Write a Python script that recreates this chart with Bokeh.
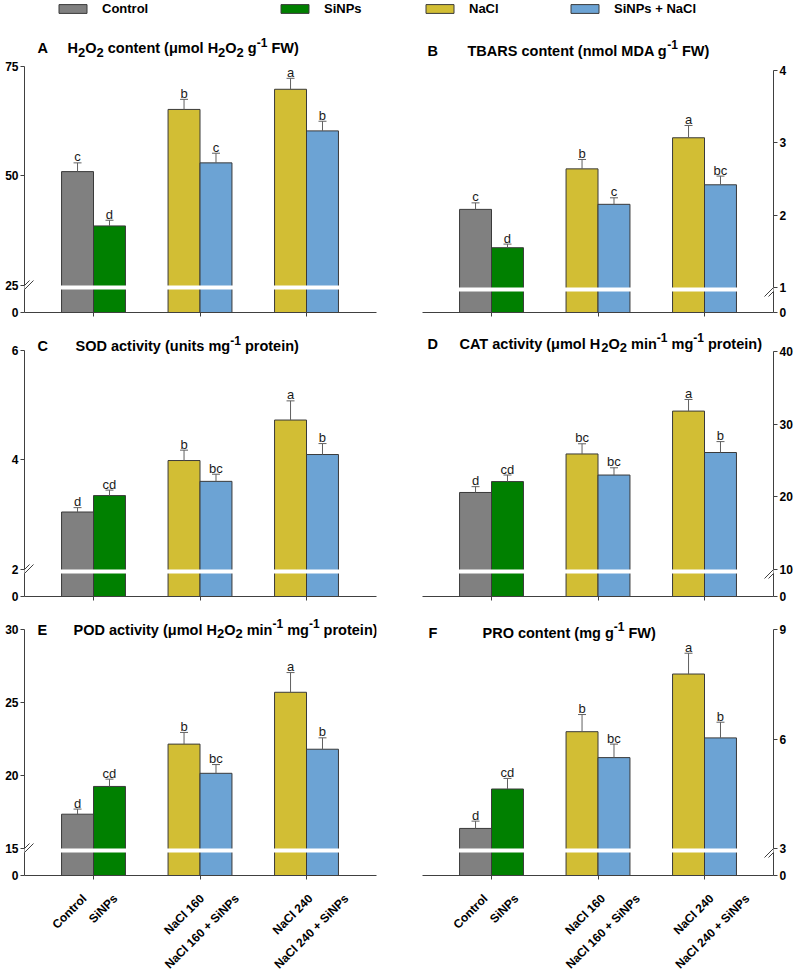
import math
from bokeh.plotting import figure
from bokeh.layouts import column, row
from bokeh.models import FixedTicker, Legend, LegendItem, Arrow, PolyAnnotation, ColumnDataSource
from bokeh.core.properties import value
from bokeh.embed import file_html
from bokeh.resources import INLINE

# ---------------- data ----------------
treatments = ["Control", "SiNPs", "NaCl 160", "NaCl 160 + SiNPs", "NaCl 240", "NaCl 240 + SiNPs"]
series_names = ["Control", "SiNPs", "NaCl", "SiNPs + NaCl"]
series_colors = ["#808080", "#008000", "#d2be34", "#6ca3d4"]
treat_series = [0, 1, 2, 3, 2, 3]
treat_group = [0, 0, 1, 1, 2, 2]
treat_side = [-1, 1, -1, 1, -1, 1]

h2o2_mean = [51.0, 38.6, 65.2, 53.0, 69.8, 60.3]
h2o2_se = [2.0, 1.3, 2.3, 2.2, 2.5, 2.2]
h2o2_letters = ["c", "d", "b", "c", "a", "b"]
h2o2_ticks = [25, 50, 75]

tbars_mean = [2.08, 1.55, 2.64, 2.15, 3.07, 2.42]
tbars_se = [0.09, 0.05, 0.13, 0.09, 0.17, 0.12]
tbars_letters = ["c", "d", "b", "c", "a", "bc"]
tbars_ticks = [1, 2, 3, 4]

sod_mean = [3.05, 3.35, 3.99, 3.61, 4.73, 4.10]
sod_se = [0.08, 0.10, 0.19, 0.13, 0.35, 0.20]
sod_letters = ["d", "cd", "b", "bc", "a", "b"]
sod_ticks = [2, 4, 6]

cat_mean = [20.6, 22.1, 25.9, 23.0, 31.8, 26.1]
cat_se = [0.8, 0.9, 1.4, 1.0, 1.6, 1.5]
cat_letters = ["d", "cd", "bc", "bc", "a", "b"]
cat_ticks = [10, 20, 30, 40]

pod_mean = [17.35, 19.25, 22.15, 20.15, 25.7, 21.8]
pod_se = [0.35, 0.5, 0.8, 0.6, 1.35, 0.78]
pod_letters = ["d", "cd", "b", "bc", "a", "b"]
pod_ticks = [15, 20, 25, 30]

pro_mean = [3.55, 4.63, 6.2, 5.49, 7.78, 6.03]
pro_se = [0.2, 0.29, 0.47, 0.37, 0.57, 0.43]
pro_letters = ["d", "cd", "b", "bc", "a", "b"]
pro_ticks = [3, 6, 9]

titles = {
    "A": [("H", "n"), ("2", "b"), ("O", "n"), ("2", "b"), (" content (μmol H", "n"), ("2", "b"), ("O", "n"),
          ("2", "b"), (" g", "n"), ("-1", "p"), (" FW)", "n")],
    "B": [("TBARS content (nmol MDA g", "n"), ("-1", "p"), (" FW)", "n")],
    "C": [("SOD activity (units mg", "n"), ("-1", "p"), (" protein)", "n")],
    "D": [("CAT activity (μmol H", "n"), ("2", "b"), ("O", "n"), ("2", "b"), (" min", "n"), ("-1", "p"),
          (" mg", "n"), ("-1", "p"), (" protein)", "n")],
    "E": [("POD activity (μmol H", "n"), ("2", "b"), ("O", "n"), ("2", "b"), (" min", "n"), ("-1", "p"),
          (" mg", "n"), ("-1", "p"), (" protein)", "n")],
    "F": [("PRO content (mg g", "n"), ("-1", "p"), (" FW)", "n")],
}

# geometry per panel: tick_top = page y of top tick, up/gap = px above/below the axis break
panels = [
    dict(key="A", mean=h2o2_mean, se=h2o2_se, letters=h2o2_letters, ticks=h2o2_ticks, col=0, row=0,
         tick_top=66, up=219, gap=27, letter_dx=13, title_dx=43, title_y=48),
    dict(key="B", mean=tbars_mean, se=tbars_se, letters=tbars_letters, ticks=tbars_ticks, col=1, row=0,
         tick_top=70, up=217, gap=25, letter_dx=5, title_dx=45, title_y=50),
    dict(key="C", mean=sod_mean, se=sod_se, letters=sod_letters, ticks=sod_ticks, col=0, row=1,
         tick_top=350, up=219, gap=27, letter_dx=13, title_dx=51, title_y=346),
    dict(key="D", mean=cat_mean, se=cat_se, letters=cat_letters, ticks=cat_ticks, col=1, row=1,
         tick_top=351, up=218, gap=27, letter_dx=5, title_dx=37, title_y=343),
    dict(key="E", mean=pod_mean, se=pod_se, letters=pod_letters, ticks=pod_ticks, col=0, row=2,
         tick_top=629, up=219, gap=27, letter_dx=13, title_dx=49, title_y=629),
    dict(key="F", mean=pro_mean, se=pro_se, letters=pro_letters, ticks=pro_ticks, col=1, row=2,
         tick_top=629, up=219, gap=27, letter_dx=6, title_dx=60, title_y=632),
]

# ---------------- layout / style ----------------
FONT = "Liberation Sans"
AXC = "#404040"
OUTC = "#3a3a3a"
ERRC = "#606060"
PX_X = 106.5   # px per group
X_START = -0.648
BAR_W = 0.30
ROWS = [dict(top=0, bottom=329), dict(top=329, bottom=614), dict(top=614, bottom=892)]
LABEL_ROW = dict(top=892, bottom=975, anchor=896)
COLS = [dict(bl=24, fw=352, br=14, axis="left", lshift=0),
        dict(bl=32, fw=351, br=25, axis="right", lshift=3)]
LABEL_SHIFT_PX = [7, 6, 18, 21, 20, 24]
LEGEND_POS = [(31, 0), (253, 0), (0, 1), (145, 1)]  # (x from frame left, column)
LEGEND_CY = 10

AW = {' ': 278, '(': 333, ')': 333, '+': 584, '-': 333, 'A': 722, 'B': 722, 'C': 722, 'D': 722,
      'E': 667, 'F': 611, 'H': 722, 'M': 833, 'O': 778, 'P': 667, 'R': 722, 'S': 667, 'T': 611,
      'W': 944, 'a': 556, 'b': 611, 'c': 556, 'd': 611, 'e': 556, 'g': 611, 'i': 278, 'l': 278,
      'm': 889, 'n': 611, 'o': 611, 'p': 611, 'r': 389, 's': 556, 't': 333, 'u': 611, 'v': 556,
      'y': 556, 'μ': 611}
KIND = {"n": (14.5, 0), "b": (13, 4), "p": (12, -6)}


def tw(s, size):
    return sum(AW.get(ch, 556) for ch in s) * size / 1000.0


def bar_x():
    return [treat_group[i] + treat_side[i] * BAR_W / 2 for i in range(6)]


figs = {}
for pd in panels:
    R = ROWS[pd["row"]]
    C = COLS[pd["col"]]
    ticks = pd["ticks"]
    brk, top = ticks[0], ticks[-1]
    ppu = pd["up"] / (top - brk)
    base = pd["tick_top"] + pd["up"] + pd["gap"]
    y0 = round(brk - pd["gap"] / ppu, 4)
    y1 = top + (pd["tick_top"] - R["top"]) / ppu
    fw = C["fw"]
    x0 = X_START
    x1 = X_START + fw / PX_X
    p = figure(width=C["bl"] + fw + C["br"], height=R["bottom"] - R["top"],
               x_range=(x0, x1), y_range=(y0, y1), output_backend="svg", toolbar_location=None,
               tools="", y_axis_location=C["axis"],
               min_border_left=C["bl"], min_border_right=C["br"], min_border_top=0,
               min_border_bottom=R["bottom"] - base)
    p.outline_line_color = None
    p.grid.visible = False
    p.background_fill_color = "white"
    p.border_fill_color = "white"

    xs_all = bar_x()
    rends = []
    for s in range(4):
        idx = [i for i in range(6) if treat_series[i] == s]
        r = p.vbar(x=[xs_all[i] for i in idx], top=[pd["mean"][i] for i in idx], bottom=y0,
                   width=BAR_W, fill_color=series_colors[s], line_color=OUTC, line_width=1)
        rends.append(r)

    # break bands
    p.quad(left=[g - BAR_W - 0.01 for g in range(3)], right=[g + BAR_W + 0.01 for g in range(3)],
           top=[brk] * 3, bottom=[brk - 4 / ppu] * 3, fill_color="white", line_color=None)

    # error bars + letters
    etop = [m + e for m, e in zip(pd["mean"], pd["se"])]
    cap = 4 / PX_X
    p.segment(x0=xs_all, y0=pd["mean"], x1=xs_all, y1=etop, line_color=ERRC, line_width=1)
    p.segment(x0=[x - cap for x in xs_all], y0=etop, x1=[x + cap for x in xs_all], y1=etop,
              line_color=ERRC, line_width=1)
    p.text(x=xs_all, y=etop, text=pd["letters"], text_align="center", text_baseline="alphabetic",
           y_offset=-6, text_font=value(FONT), text_font_size="13px", text_color="#1a1a1a")

    # title (pieces placed one after another, with sub/superscripts)
    ty = y1 - (pd["title_y"] - R["top"]) / ppu
    p.text(x=[x0], y=[ty], text=[pd["key"]], x_offset=pd["letter_dx"], text_align="left",
           text_baseline="middle", text_font=value(FONT), text_font_style="bold",
           text_font_size="14.5px", text_color="black")
    pieces = {"n": ([], []), "b": ([], []), "p": ([], [])}
    cx = pd["title_dx"]
    for txt, k in titles[pd["key"]]:
        size = KIND[k][0]
        stripped = txt.lstrip(" ")
        cx += tw(txt[:len(txt) - len(stripped)], size)
        core = stripped.rstrip(" ")
        pieces[k][0].append(core)
        pieces[k][1].append(cx)
        cx += tw(stripped, size)
    for k, (txts, offs) in pieces.items():
        if not txts:
            continue
        size, yo = KIND[k]
        src = ColumnDataSource(dict(x=[x0] * len(txts), y=[ty] * len(txts), t=txts, xo=offs))
        p.text(x="x", y="y", text="t", x_offset="xo", y_offset=yo, source=src, text_align="left",
               text_baseline="middle", text_font=value(FONT), text_font_style="bold",
               text_font_size="%gpx" % size, text_color="black")

    # y axis
    ya = p.yaxis[0]
    yt = [y0] + [float(t) for t in ticks]
    ya.ticker = FixedTicker(ticks=yt, minor_ticks=[])
    ov = {y0: "0"}
    for t in ticks:
        ov[float(t)] = str(t)
    ya.major_label_overrides = ov
    ya.bounds = (y0, top)
    ya.axis_line_color = AXC
    ya.major_tick_line_color = AXC
    ya.major_tick_out = 4
    ya.major_tick_in = 0
    ya.minor_tick_out = 0
    ya.minor_tick_in = 0
    ya.major_label_standoff = 2
    ya.axis_label_standoff = 0
    ya.major_label_text_font = FONT
    ya.major_label_text_font_style = "bold"
    ya.major_label_text_font_size = "12px"
    ya.major_label_text_color = "black"

    # x axis: group ticks between the two bars of each group
    xa = p.xaxis[0]
    xa.axis_line_color = AXC
    xa.ticker = FixedTicker(ticks=[], minor_ticks=[0, 1, 2])
    xa.major_tick_in = 0
    xa.major_tick_out = 0
    xa.minor_tick_in = 0
    xa.minor_tick_out = 4
    xa.minor_tick_line_color = AXC
    xa.axis_label_standoff = 0
    xa.major_label_standoff = 0
    xa.major_label_text_font_size = "0px"

    # axis break marks
    ax = x0 if C["axis"] == "left" else x1
    dx = 1 / PX_X
    dy = 1 / ppu
    by = brk - 2 * dy
    p.add_layout(PolyAnnotation(xs=[ax - 9 * dx, ax + 5 * dx, ax + 9 * dx, ax - 5 * dx],
                                ys=[by - 7 * dy, by + 7 * dy, by + 7 * dy, by - 7 * dy],
                                fill_color="white", fill_alpha=1.0, line_color=None))
    for d in (-2, 2):
        p.add_layout(Arrow(x_start=ax + (-7 + d) * dx, y_start=by - 7 * dy,
                           x_end=ax + (7 + d) * dx, y_end=by + 7 * dy,
                           end=None, line_color=AXC, line_width=1))

    # legend (top row)
    if pd["row"] == 0:
        frame_h = base - R["top"]
        for s in range(4):
            lx, lc = LEGEND_POS[s]
            if lc != pd["col"]:
                continue
            leg = Legend(items=[LegendItem(label=series_names[s], renderers=[rends[s]])],
                         location=(lx, frame_h - LEGEND_CY - 6), orientation="horizontal",
                         glyph_width=35, glyph_height=11, label_height=12, label_standoff=12,
                         padding=0, margin=0, spacing=0, border_line_color=None,
                         background_fill_alpha=0, label_text_font=FONT,
                         label_text_font_style="bold", label_text_font_size="13px",
                         label_text_color="black")
            p.add_layout(leg)
    figs[pd["key"]] = p

# treatment names under the bottom panels (rotated 45 degrees)
label_figs = []
for C in COLS:
    fw = C["fw"]
    h = LABEL_ROW["bottom"] - LABEL_ROW["top"]
    q = figure(width=C["bl"] + fw + C["br"], height=h, x_range=(X_START, X_START + fw / PX_X),
               y_range=(0, h), output_backend="svg", toolbar_location=None, tools="",
               min_border_left=C["bl"], min_border_right=C["br"], min_border_top=0,
               min_border_bottom=0)
    q.axis.visible = False
    q.grid.visible = False
    q.outline_line_color = None
    xs_all = bar_x()
    q.text(x=[xs_all[i] + (LABEL_SHIFT_PX[i] + C["lshift"]) / PX_X for i in range(6)],
           y=[h - (LABEL_ROW["anchor"] - LABEL_ROW["top"])] * 6, text=treatments,
           angle=math.pi / 4, text_align="right", text_baseline="middle",
           text_font=value(FONT), text_font_style="bold", text_font_size="12px",
           text_color="black")
    label_figs.append(q)

layout = column(row(figs["A"], figs["B"]), row(figs["C"], figs["D"]), row(figs["E"], figs["F"]),
                row(label_figs[0], label_figs[1]))
open("out.html", "w").write(file_html(layout, INLINE))
